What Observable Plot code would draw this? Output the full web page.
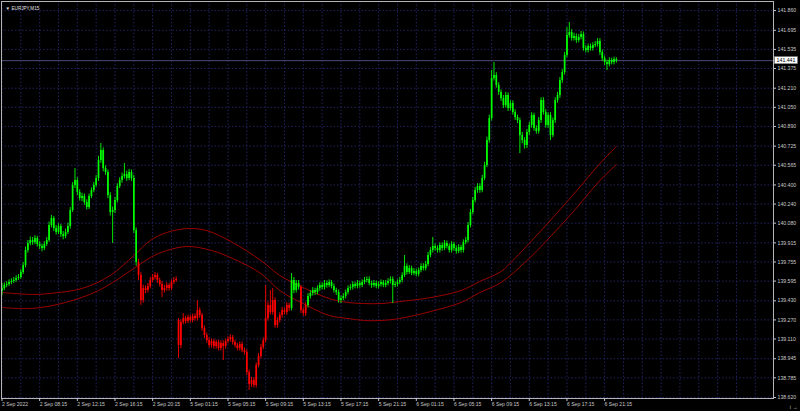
<!DOCTYPE html>
<html>
<head>
<meta charset="utf-8">
<script src="https://cdn.jsdelivr.net/npm/d3@7"></script>
<script src="https://cdn.jsdelivr.net/npm/@observablehq/plot@0.6"></script>
<style>
  html, body { margin: 0; padding: 0; background: #000; }
  #chart svg { display: block; }
</style>
</head>
<body>
<div id="chart"></div>
<script>
// ---------- DATA ----------
const symbolTitle = "EURJPY,M15";
const currentPrice = 141.441;

const yTickValues = [141.860,141.695,141.535,141.375,141.210,141.050,140.890,140.725,140.565,140.400,140.240,140.080,139.915,139.755,139.595,139.430,139.270,139.110,138.945,138.785,138.620];

const xTickBars = [0,16,32,48,64,80,96,112,128,144,160,176,192,208,224,240,256];
const xTickLabels = ["2 Sep 2022","2 Sep 08:15","2 Sep 12:15","2 Sep 16:15","2 Sep 20:15","5 Sep 01:15","5 Sep 05:15","5 Sep 09:15","5 Sep 13:15","5 Sep 17:15","5 Sep 21:15","6 Sep 01:15","6 Sep 05:15","6 Sep 09:15","6 Sep 13:15","6 Sep 17:15","6 Sep 21:15"];

const closes = [
139.533,139.558,139.566,139.583,139.592,139.600,139.617,139.625,139.667,139.725,
139.851,139.910,139.935,139.918,139.951,139.901,139.885,139.868,139.901,139.935,
140.060,140.119,140.035,140.002,140.052,139.985,139.968,140.002,140.052,140.186,
140.395,140.437,140.337,140.286,140.303,140.253,140.211,140.303,140.353,140.395,
140.454,140.605,140.688,140.537,140.504,140.311,140.169,140.186,140.270,140.387,
140.437,140.471,140.487,140.454,140.504,140.454,140.018,139.751,139.642,139.432,
139.533,139.516,139.550,139.600,139.625,139.642,139.600,139.566,139.516,139.533,
139.558,139.533,139.583,139.600,139.608,139.056,139.248,139.282,139.257,139.290,
139.265,139.298,139.282,139.349,139.307,139.198,139.139,139.097,139.056,139.089,
139.047,139.081,139.031,139.072,139.047,139.089,139.106,139.123,139.081,139.056,
139.031,139.064,139.014,138.997,138.830,138.729,138.763,138.721,138.888,138.964,
139.039,139.097,139.282,139.391,139.332,139.432,139.223,139.265,139.307,139.349,
139.332,139.391,139.366,139.600,139.516,139.575,139.541,139.349,139.323,139.391,
139.466,139.491,139.516,139.499,139.533,139.558,139.541,139.575,139.558,139.583,
139.550,139.516,139.499,139.432,139.449,139.466,139.499,139.533,139.541,139.566,
139.550,139.575,139.558,139.583,139.600,139.608,139.575,139.558,139.575,139.550,
139.566,139.583,139.558,139.575,139.592,139.608,139.558,139.566,139.583,139.600,
139.642,139.717,139.667,139.700,139.658,139.675,139.650,139.684,139.717,139.700,
139.734,139.809,139.851,139.885,139.868,139.851,139.893,139.868,139.910,139.885,
139.851,139.901,139.868,139.843,139.876,139.851,139.918,139.935,140.060,140.169,
140.270,140.353,140.387,140.353,140.454,140.563,140.772,140.956,141.291,141.316,
141.232,141.174,141.124,141.065,141.149,141.040,141.082,141.006,140.964,140.939,
140.814,140.772,140.730,140.839,140.898,140.981,140.872,140.847,140.939,141.107,
141.006,140.898,140.981,140.814,140.939,141.107,141.149,141.274,141.341,141.484,
141.651,141.676,141.626,141.643,141.609,141.634,141.659,141.542,141.525,141.559,
141.542,141.567,141.576,141.601,141.509,141.458,141.425,141.408,141.442,141.425,
141.450,141.441];

const opens = [
139.508,139.533,139.558,139.566,139.583,139.592,139.600,139.617,139.625,139.667,
139.725,139.851,139.910,139.935,139.918,139.951,139.901,139.885,139.868,139.901,
139.935,140.060,140.119,140.035,140.002,140.052,139.985,139.968,140.002,140.052,
140.186,140.395,140.437,140.337,140.286,140.303,140.253,140.211,140.303,140.353,
140.395,140.454,140.605,140.688,140.537,140.504,140.311,140.169,140.186,140.270,
140.387,140.437,140.471,140.487,140.454,140.504,140.454,140.018,139.751,139.642,
139.432,139.533,139.516,139.550,139.600,139.625,139.642,139.600,139.566,139.516,
139.533,139.558,139.533,139.583,139.600,139.265,139.056,139.248,139.282,139.257,
139.290,139.265,139.298,139.282,139.349,139.307,139.198,139.139,139.097,139.056,
139.089,139.047,139.081,139.031,139.072,139.047,139.089,139.106,139.123,139.081,
139.056,139.031,139.064,139.014,138.997,138.830,138.729,138.763,138.721,138.888,
138.964,139.039,139.097,139.282,139.391,139.332,139.432,139.223,139.265,139.307,
139.349,139.332,139.391,139.366,139.600,139.516,139.575,139.541,139.349,139.323,
139.391,139.466,139.491,139.516,139.499,139.533,139.558,139.541,139.575,139.558,
139.583,139.550,139.516,139.499,139.432,139.449,139.466,139.499,139.533,139.541,
139.566,139.550,139.575,139.558,139.583,139.600,139.608,139.575,139.558,139.575,
139.550,139.566,139.583,139.558,139.575,139.592,139.608,139.558,139.566,139.583,
139.600,139.642,139.717,139.667,139.700,139.658,139.675,139.650,139.684,139.717,
139.700,139.734,139.809,139.851,139.885,139.868,139.851,139.893,139.868,139.910,
139.885,139.851,139.901,139.868,139.843,139.876,139.851,139.918,139.935,140.060,
140.169,140.270,140.353,140.387,140.353,140.454,140.563,140.772,140.956,141.291,
141.316,141.232,141.174,141.124,141.065,141.149,141.040,141.082,141.006,140.964,
140.939,140.814,140.772,140.730,140.839,140.898,140.981,140.872,140.847,140.939,
141.107,141.006,140.898,140.981,140.814,140.939,141.107,141.149,141.274,141.341,
141.484,141.651,141.676,141.626,141.643,141.609,141.634,141.659,141.542,141.525,
141.559,141.542,141.567,141.576,141.601,141.509,141.458,141.425,141.408,141.442,
141.425,141.450];

const highs = [
139.575,139.580,139.590,139.605,139.615,139.625,139.640,139.650,139.690,139.750,
139.880,139.935,139.965,139.960,139.975,139.970,139.925,139.905,139.925,139.960,
140.090,140.145,140.135,140.060,140.075,140.070,140.010,140.030,140.080,140.210,
140.420,140.537,140.460,140.360,140.330,140.325,140.275,140.325,140.375,140.420,
140.480,140.640,140.747,140.710,140.560,140.525,140.335,140.215,140.295,140.410,
140.460,140.500,140.579,140.515,140.530,140.525,140.480,140.040,139.775,139.665,
139.560,139.555,139.575,139.625,139.650,139.667,139.660,139.620,139.590,139.560,
139.580,139.575,139.605,139.625,139.630,139.282,139.270,139.323,139.300,139.310,
139.310,139.320,139.320,139.432,139.370,139.325,139.220,139.160,139.120,139.110,
139.110,139.100,139.100,139.095,139.095,139.110,139.130,139.145,139.140,139.100,
139.075,139.085,139.085,139.035,139.020,138.850,138.790,138.785,138.910,138.990,
139.065,139.120,139.558,139.420,139.516,139.533,139.455,139.290,139.330,139.375,
139.370,139.415,139.410,139.658,139.625,139.600,139.600,139.560,139.370,139.415,
139.490,139.515,139.540,139.535,139.555,139.580,139.580,139.600,139.595,139.605,
139.600,139.570,139.535,139.520,139.470,139.490,139.520,139.555,139.565,139.590,
139.585,139.600,139.595,139.605,139.625,139.630,139.630,139.595,139.600,139.595,
139.590,139.605,139.600,139.600,139.615,139.630,139.630,139.590,139.605,139.625,
139.665,139.809,139.740,139.725,139.720,139.700,139.695,139.705,139.740,139.740,
139.760,139.835,139.875,139.960,139.905,139.890,139.915,139.915,139.935,139.930,
139.905,139.925,139.920,139.890,139.900,139.895,139.940,139.960,140.085,140.195,
140.295,140.380,140.410,140.410,140.480,140.590,140.800,140.985,141.358,141.425,
141.340,141.255,141.195,141.150,141.175,141.170,141.105,141.105,141.030,140.985,
140.960,140.840,140.795,140.865,140.925,141.005,141.000,140.895,140.965,141.130,
141.130,141.030,141.005,141.005,140.960,141.130,141.175,141.300,141.365,141.510,
141.718,141.760,141.700,141.670,141.665,141.660,141.685,141.680,141.565,141.580,
141.580,141.590,141.600,141.625,141.625,141.530,141.480,141.445,141.465,141.460,
141.470,141.465];

const lows = [
139.474,139.515,139.540,139.550,139.565,139.575,139.585,139.600,139.610,139.650,
139.705,139.830,139.890,139.895,139.900,139.880,139.860,139.840,139.850,139.885,
139.920,140.040,140.010,139.980,139.985,139.960,139.940,139.950,139.985,140.030,
140.170,140.370,140.310,140.265,140.260,140.230,140.190,140.195,140.285,140.335,
140.380,140.430,140.580,140.510,140.480,140.285,140.140,139.910,140.160,140.250,
140.370,140.415,140.450,140.430,140.435,140.430,139.995,139.720,139.600,139.391,
139.410,139.490,139.495,139.530,139.580,139.605,139.575,139.545,139.458,139.495,
139.510,139.510,139.515,139.565,139.585,138.947,139.030,139.230,139.235,139.240,
139.245,139.245,139.260,139.260,139.285,139.175,139.115,139.075,139.035,139.035,
139.025,139.025,139.010,139.010,138.930,139.025,139.070,139.085,139.060,139.035,
139.010,139.010,138.995,138.975,138.805,138.679,138.705,138.700,138.700,138.870,
138.945,139.020,139.075,139.260,139.310,139.310,139.200,139.200,139.245,139.285,
139.310,139.310,139.340,139.345,139.490,139.495,139.520,139.325,139.300,139.300,
139.370,139.445,139.470,139.475,139.480,139.510,139.520,139.520,139.535,139.540,
139.530,139.495,139.475,139.410,139.407,139.430,139.445,139.480,139.515,139.520,
139.530,139.530,139.535,139.540,139.565,139.580,139.555,139.535,139.540,139.530,
139.530,139.545,139.540,139.540,139.555,139.570,139.407,139.540,139.545,139.565,
139.580,139.625,139.645,139.650,139.640,139.640,139.630,139.630,139.665,139.680,
139.680,139.715,139.790,139.830,139.845,139.830,139.830,139.845,139.850,139.865,
139.830,139.830,139.845,139.820,139.825,139.830,139.830,139.900,139.915,140.040,
140.150,140.250,140.330,140.330,140.335,140.435,140.545,140.750,140.935,141.270,
141.210,141.150,141.100,141.040,141.045,141.015,141.020,140.985,140.940,140.915,
140.663,140.745,140.700,140.705,140.815,140.875,140.850,140.825,140.825,140.915,
140.985,140.875,140.875,140.772,140.795,140.915,141.085,141.125,141.250,141.320,
141.465,141.630,141.605,141.605,141.585,141.590,141.615,141.520,141.505,141.505,
141.520,141.520,141.550,141.555,141.485,141.435,141.400,141.358,141.390,141.405,
141.405,141.420];

// bars drawn red (bearish trend state), inclusive ranges of bar numbers
const redRanges = [[58,122],[127,129]];

// envelope lines, sampled at bar numbers
const bandBars  = [0,13,20,27,34,41,46,56,63,70,79,87,89,98,110,118,127,139,147,154,161,169,182,195,203,212,217,223,229,242,254,261];
const bandUpper = [139.499,139.483,139.491,null,139.533,null,139.642,139.809,139.935,140.002,140.035,140.018,null,139.918,139.767,139.642,139.550,139.449,139.416,139.407,139.407,139.424,139.457,139.516,139.592,139.675,139.767,null,140.018,140.303,140.579,140.722];
const bandLower = [139.374,139.366,null,139.416,null,139.516,null,139.700,139.792,139.851,139.885,null,139.851,139.784,139.658,139.516,139.416,139.307,139.282,139.265,139.265,139.282,139.340,139.416,139.499,139.583,null,139.767,139.885,140.161,140.437,140.571];

// ---------- BUILD ----------
const isRed = i => redRanges.some(([a,b]) => i >= a && i <= b);
const bars = closes.map((c, i) => ({
  i, open: opens[i], high: highs[i], low: lows[i], close: c,
  color: isRed(i) ? "#ff0000" : "#00ff00"
}));
const upperPts = bandBars.map((b, k) => ({i: b, v: bandUpper[k]})).filter(d => d.v != null);
const lowerPts = bandBars.map((b, k) => ({i: b, v: bandLower[k]})).filter(d => d.v != null);

const gridBars = d3.range(0, 328, 8);
const gridColor = "#22225e";
const axisColor = "#c8c8c8";
const font = "Liberation Sans, Arial, sans-serif";

const plot = Plot.plot({
  width: 800,
  height: 411,
  marginLeft: 1,
  marginRight: 27,
  marginTop: 1,
  marginBottom: 13,
  style: {background: "#000", color: axisColor, fontFamily: font, fontSize: "5.2px", overflow: "visible"},
  x: {type: "linear", domain: [-0.21, 327.74], axis: null},
  y: {type: "linear", domain: [138.612, 141.936], axis: null},
  marks: [
    Plot.ruleY(yTickValues, {stroke: gridColor, strokeWidth: 1, strokeDasharray: "1.5,2"}),
    Plot.ruleX(gridBars, {stroke: gridColor, strokeWidth: 1, strokeDasharray: "1.5,2"}),
    Plot.ruleY([currentPrice], {stroke: "#4a4a78", strokeWidth: 1}),
    Plot.line(upperPts, {x: "i", y: "v", stroke: "#9a0000", strokeWidth: 1, curve: "catmull-rom"}),
    Plot.line(lowerPts, {x: "i", y: "v", stroke: "#9a0000", strokeWidth: 1, curve: "catmull-rom"}),
    Plot.ruleX(bars, {x: "i", y1: "low", y2: "high", stroke: "color", strokeWidth: 0.9}),
    Plot.ruleX(bars, {x: "i", y1: "open", y2: "close", stroke: "color", strokeWidth: 1.7}),
    Plot.frame({stroke: "#b4b4b4", strokeWidth: 1}),
    Plot.axisY(yTickValues, {
      anchor: "right", tickSize: 2, tickPadding: 2,
      tickFormat: d => d.toFixed(3), color: axisColor, fontSize: 5.2
    }),
    Plot.axisX(xTickBars, {
      anchor: "bottom", tickSize: 3, tickPadding: 1, textAnchor: "start",
      tickFormat: d => xTickLabels[xTickBars.indexOf(d)], color: axisColor, fontSize: 5.1
    }),
    Plot.text(["\u25BC"], {frameAnchor: "top-left", dx: 4, dy: 7, fill: "#e0e0e0", fontSize: 4.5, lineAnchor: "middle", textAnchor: "start"}),
    Plot.text([symbolTitle], {frameAnchor: "top-left", dx: 10, dy: 7, fill: "#e0e0e0", fontSize: 4.6, lineAnchor: "middle", textAnchor: "start"})
  ]
});

// current price tag on the right axis, positioned with Plot's own y scale
const yScale = plot.scale("y");
const svg = d3.select(plot);
const py = yScale.apply(currentPrice);
const tag = svg.append("g");
tag.append("rect").attr("x", 774.5).attr("y", py - 3.5).attr("width", 23).attr("height", 7)
  .attr("fill", "#ffffff").attr("stroke", "#808080").attr("stroke-width", 0.5);
tag.append("text").attr("x", 786).attr("y", py).attr("dy", "0.35em")
  .attr("text-anchor", "middle").attr("font-size", 5.2).attr("font-family", font)
  .attr("fill", "#000").text(currentPrice.toFixed(3));

document.getElementById("chart").appendChild(plot);
</script>
</body>
</html>
